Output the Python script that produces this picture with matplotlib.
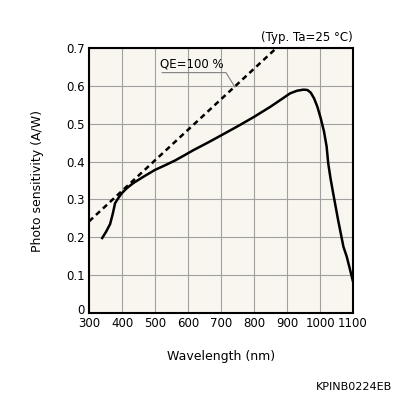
import matplotlib.pyplot as plt
import matplotlib.transforms as mtransforms
import numpy as np

# spectral response
wl = [340, 352, 364, 372, 379, 390, 399, 415, 434, 465, 500, 530, 561, 590, 616,
      660, 700, 752, 800, 850, 889, 909, 930, 950, 962, 972, 982, 992, 1002, 1012,
      1020, 1025, 1032, 1040, 1055, 1071, 1081, 1090, 1100]
sens = [0.198, 0.215, 0.235, 0.262, 0.29, 0.305, 0.316, 0.33, 0.343, 0.36, 0.378,
        0.39, 0.403, 0.417, 0.43, 0.45, 0.469, 0.494, 0.518, 0.545, 0.568, 0.58,
        0.587, 0.590, 0.589, 0.582, 0.567, 0.545, 0.515, 0.48, 0.44, 0.395, 0.355,
        0.316, 0.245, 0.175, 0.149, 0.118, 0.083]

# QE = 100 % line
qe_wl = [300, 868]
qe_sens = [w / 1240 for w in qe_wl]

plt.rcParams['font.family'] = 'DejaVu Sans'
plt.rcParams['font.size'] = 8.5

fig = plt.figure(figsize=(3.96, 3.96), dpi=100)
ax = fig.add_axes([89 / 396, 1 - 313 / 396, 264 / 396, 265 / 396])
ax.set_facecolor('#f8f6ef')

ax.plot(wl, sens, color='black', lw=1.8, solid_joinstyle='round')
ax.plot(qe_wl, qe_sens, color='black', lw=1.8, ls=(0, (2.2, 1.6)))

ax.set_xlim(300, 1100)
ax.set_ylim(0, 0.7)
ax.set_xticks(np.arange(300, 1101, 100))
ax.set_yticks(np.arange(0, 0.71, 0.1))
ax.set_yticklabels(['0', '0.1', '0.2', '0.3', '0.4', '0.5', '0.6', '0.7'])
ax.grid(True, color='#a0a0a0', lw=0.8)
ax.tick_params(length=0, pad=3)
for s in ax.spines.values():
    s.set_linewidth(1.5)

# nudge the "0" up a little so it clears the "300"
lab0 = ax.get_yticklabels()[0]
lab0.set_transform(lab0.get_transform() + mtransforms.ScaledTranslation(0, 3 / 72, fig.dpi_scale_trans))

ax.set_xlabel('Wavelength (nm)', fontsize=9, labelpad=14)
ax.set_ylabel('Photo sensitivity (A/W)', fontsize=9, labelpad=16)

# QE label with leader line
ax.text(613, 0.641, 'QE=100 %', ha='center', va='bottom', fontsize=8.5)
ax.plot([522, 715, 742], [0.635, 0.635, 0.597], color='#808080', lw=0.8)

fig.text(353 / 396, 1 - 38 / 396, '(Typ. Ta=25 °C)', ha='right', va='center', fontsize=8.5)
fig.text(392 / 396, 1 - 387 / 396, 'KPINB0224EB', ha='right', va='center', fontsize=8)

plt.savefig('out.png', dpi=100)
